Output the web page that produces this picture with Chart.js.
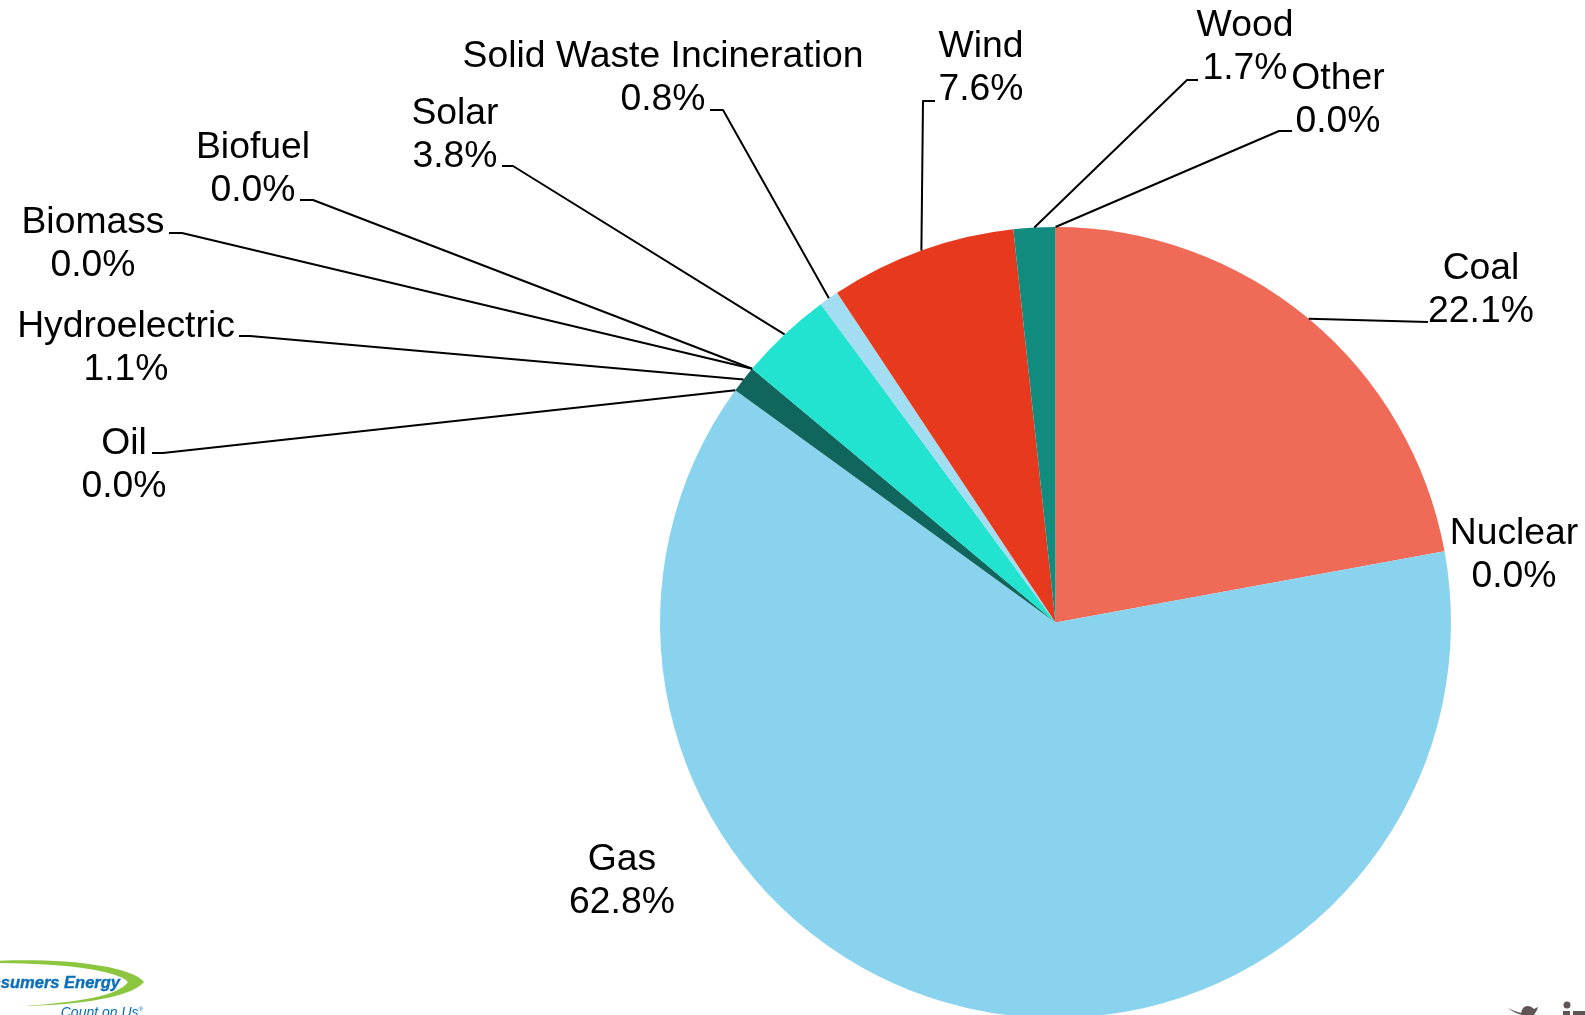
<!DOCTYPE html>
<html>
<head>
<meta charset="utf-8">
<title>Energy mix</title>
<script src="https://cdn.jsdelivr.net/npm/chart.js@4/dist/chart.umd.min.js"></script>
<style>
html,body{margin:0;padding:0;background:#fff;width:1585px;height:1015px;overflow:hidden}
#wrap{position:relative;width:1585px;height:1015px;overflow:hidden}
canvas{position:absolute;left:0;top:0}
svg{position:absolute;left:0;top:0}
</style>
</head>
<body>
<div id="wrap">
<canvas id="c" width="1585" height="1100" style="width:1585px;height:1100px"></canvas>
<svg width="1585" height="1015" viewBox="0 0 1585 1015">
  <path d="M-5 961 C60 958 130 965 144 982 C132 997 80 1005 24 1006 C80 1002 118 996 128 982 C118 970 60 963 -5 963 Z" fill="#8CC63F"/>
  <text x="120" y="988" text-anchor="end" font-family="Liberation Sans" font-size="16.5" font-weight="bold" font-style="italic" fill="#0B6FBA" stroke="#0B6FBA" stroke-width="0.4">Consumers Energy</text>
  <text x="143" y="1017" text-anchor="end" font-family="Liberation Sans" font-size="14" font-style="italic" fill="#0B6FBA">Count on Us<tspan font-size="6" dy="-6">®</tspan></text>
  <path d="M1508 1008 C1513 1012 1518 1014 1522 1015 L1534 1015 C1535 1013 1537 1011 1538 1007 L1534 1009 C1530 1005 1524 1005 1522 1010 L1521 1013 C1517 1012 1512 1010 1508 1008 Z" fill="#5F5555"/>
  <circle cx="1567" cy="1005" r="3.5" fill="#5F5555"/>
  <rect x="1563" y="1011" width="7" height="4" fill="#5F5555"/>
  <rect x="1573" y="1011" width="12" height="4" fill="#5F5555"/>
</svg>
</div>
<script>
const categories = ['Coal','Nuclear','Gas','Oil','Hydroelectric','Biomass','Biofuel','Solar','Solid Waste Incineration','Wind','Wood','Other'];
const shares = [22.1,0.0,62.8,0.0,1.1,0.0,0.0,3.8,0.8,7.6,1.7,0.0];
const sliceColors = ['#EF6A57','#D9D9D9','#8AD3EE','#555555','#10665C','#888888','#AAAAAA','#22E2D0','#A3DDF1','#E7391D','#118C7E','#CCCCCC'];

// label placement: centre x, first baseline y, leader start, leader bend
const labelX = [1481,1514,622,124,126,93,253,455,663,981,1245,1338];
const labelY = [279,544,869.5,453.5,337,233,158,124,67,57,36,88.5];
const leaderStart = [[1428,322],null,null,[152,453],[239,336],[169,233],[300,200],[502,166],[710,110],[935,101],[1198,80],[1292,131]];
const leaderBend = [[1428,322],null,null,[163,453],[250,336],[182,233],[313,200],[513,166],[723,110],[923,101],[1187,80],[1279,131]];

const calloutPlugin = {
  id:'callouts',
  afterDatasetsDraw(chart){
    const ctx = chart.ctx;
    const arcs = chart.getDatasetMeta(0).data;
    ctx.save();
    ctx.strokeStyle = '#000';
    ctx.lineWidth = 2;
    ctx.lineJoin = 'round';
    arcs.forEach((arc,i)=>{
      if(!leaderStart[i]) return;
      const a = (arc.startAngle + arc.endAngle)/2;
      ctx.beginPath();
      ctx.moveTo(leaderStart[i][0],leaderStart[i][1]);
      ctx.lineTo(leaderBend[i][0],leaderBend[i][1]);
      ctx.lineTo(arc.x + Math.cos(a)*arc.outerRadius, arc.y + Math.sin(a)*arc.outerRadius);
      ctx.stroke();
    });
    ctx.fillStyle = '#000';
    ctx.font = '37.3px "Liberation Sans", Arial, sans-serif';
    ctx.textAlign = 'center';
    ctx.textBaseline = 'alphabetic';
    categories.forEach((name,i)=>{
      ctx.fillText(name,labelX[i],labelY[i]);
      ctx.fillText(shares[i].toFixed(1)+'%',labelX[i],labelY[i]+43);
    });
    ctx.restore();
  }
};

new Chart(document.getElementById('c'),{
  type:'pie',
  data:{labels:categories,datasets:[{data:shares,backgroundColor:sliceColors,borderWidth:0}]},
  options:{
    responsive:false,
    animation:false,
    layout:{padding:{left:660,right:134,top:227,bottom:82}},
    plugins:{legend:{display:false},tooltip:{enabled:false},title:{display:false}}
  },
  plugins:[calloutPlugin]
});
</script>
</body>
</html>
